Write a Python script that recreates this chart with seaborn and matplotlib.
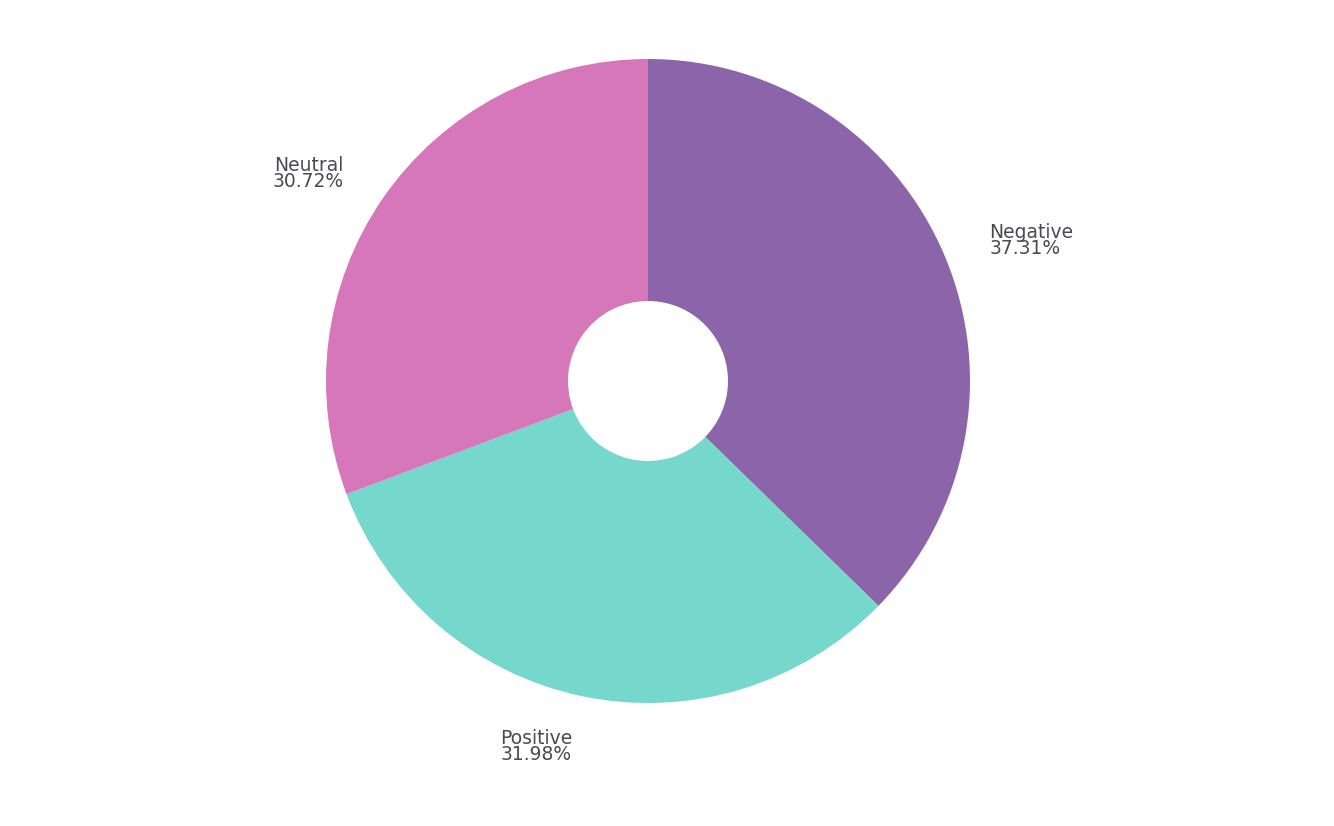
import matplotlib
matplotlib.use("Agg")
import matplotlib.pyplot as plt
import numpy as np
import seaborn as sns

labels = ["Negative", "Positive", "Neutral"]
shares = [37.31, 31.98, 30.72]
colors = ["#8B64AA", "#76D8CC", "#D577B9"]

sns.set_theme(style="white")
plt.rcParams["font.family"] = ["DejaVu Sans"]

W, H, DPI = 1334, 826, 100
fig = plt.figure(figsize=(W / DPI, H / DPI), dpi=DPI)
ax = fig.add_axes([0, 0, 1, 1])

# pixel geometry of the ring
cx, cy, r_px = 648, 381, 322
hole = 80 / r_px

wedges, _ = ax.pie(shares, colors=colors, startangle=90, counterclock=False,
                   radius=1.0, wedgeprops=dict(width=1 - hole, linewidth=0))

for w, lab, val in zip(wedges, labels, shares):
    mid = np.deg2rad((w.theta1 + w.theta2) / 2)
    x, y = 1.15 * np.cos(mid), 1.15 * np.sin(mid) - 0.01
    ha = "left" if np.cos(mid) > 0 else "right"
    ax.text(x, y, f"{lab}\n{val:.2f}%", ha=ha, va="center",
            multialignment=ha, fontsize=13.5, color="#4a4a55",
            linespacing=0.82)

ax.set_xlim(-cx / r_px, (W - cx) / r_px)
ax.set_ylim(-(H - cy) / r_px, cy / r_px)
ax.set_aspect("equal")
ax.axis("off")

fig.savefig("out.png", dpi=DPI, facecolor="white")
